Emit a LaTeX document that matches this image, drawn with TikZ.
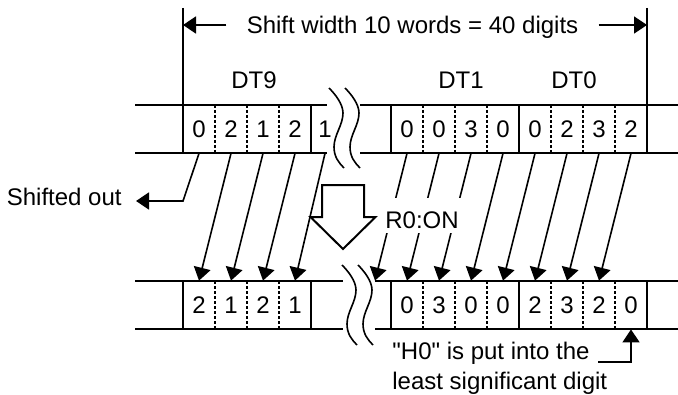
\documentclass[tikz,border=0pt]{standalone}
\usepackage{fontspec}
\setmainfont{Liberation Sans}[Ligatures=TeXOff]
\usetikzlibrary{arrows.meta, positioning, calc}
\tikzset{
  cell/.style={minimum width=16pt, minimum height=24pt, inner sep=0pt, font=\fontsize{12}{14}\selectfont},
  lbl/.style={inner sep=0pt, font=\fontsize{12}{14}\selectfont},
  reg/.style={line width=1pt},
  sepline/.style={line width=1pt, dash pattern=on 1.5pt off 1pt},
  mvarrow/.style={line width=0.8pt, -{Triangle[length=6.5pt, width=8.5pt]}},
  brkwave/.pic={\draw[line width=0.8pt] (0,0) .. controls (6,6) and (14,16) .. (14,25)
      .. controls (14,37) and (5,47) .. (5,59) .. controls (5,69) and (10,75) .. (15,80);}
}

\begin{document}
\begin{tikzpicture}[x=0.5pt, y=-0.5pt]
    \useasboundingbox (0,0) rectangle (678,395);

    % Register outlines
    \foreach \y in {105,153} {
      \draw[reg] (135,\y) -- (327,\y);
      \draw[reg] (360,\y) -- (678,\y);
    }
    \foreach \y in {281,329} {
      \draw[reg] (135,\y) -- (343,\y);
      \draw[reg] (375,\y) -- (678,\y);
    }
    \foreach \y in {105,281} {
      \foreach \x in {183,311,391,519,647} \draw[reg] (\x,\y) -- (\x,\y+48);
      \foreach \x in {215,247,279,423,455,487,551,583,615} \draw[sepline] (\x,\y) -- (\x,\y+48);
    }

    % Breaks
    \pic at (329,88) {brkwave};
    \pic at (345,88) {brkwave};
    \pic at (342,265) {brkwave};
    \pic at (358,265) {brkwave};

    % Word labels
    \node[lbl, anchor=base] (dt9) at (254,89) {DT9};
    \node[lbl, anchor=base] (dt1) at (461,89) {DT1};
    \node[lbl, anchor=base] (dt0) at (574,89) {DT0};

    % Top digits
    \foreach \d [count=\i] in {0,2,1,2} \node[cell] (tl\i) at (167+32*\i,129) {\d};
    \node[cell] (tl5) at (325,129) {1};
    \node[cell] (tr0) at (375,129) {};
    \foreach \d [count=\i] in {0,0,3,0,0,2,3,2} \node[cell] (tr\i) at (375+32*\i,129) {\d};

    % Bottom digits
    \foreach \d [count=\i] in {2,1,2,1} \node[cell] (bl\i) at (167+32*\i,305) {\d};
    \node[cell] (br0) at (375,305) {};
    \foreach \d [count=\i] in {0,3,0,0,2,3,2,0} \node[cell] (br\i) at (375+32*\i,305) {\d};

    % Shift width
    \draw[reg] (183,8) -- (183,105);
    \draw[reg] (647,8) -- (647,105);
    \node[lbl, anchor=base, inner xsep=10pt] (title) at (412.5,33.5) {Shift width 10 words = 40 digits};
    \coordinate (dimL) at (183,25);
    \coordinate (dimR) at (647,25);
    \draw[mvarrow] (dimL -| title.west) -- (dimL);
    \draw[mvarrow] (dimR -| title.east) -- (dimR);

    % Block arrow
    \draw[reg, fill=white] (322,185) -- (364,185) -- (364,217) -- (375.5,217)
      -- (343,249) -- (310.5,217) -- (322,217) -- cycle;

    % Shift arrows
    \foreach \i in {2,...,5} {
      \pgfmathtruncatemacro\j{\i-1}
      \draw[mvarrow] (tl\i.south) -- (bl\j.north);
    }
    \foreach \i in {1,...,8} {
      \pgfmathtruncatemacro\j{\i-1}
      \draw[mvarrow] (tr\i.south) -- (br\j.north);
    }

    % Shifted out
    \coordinate (outbend) at (183,201);
    \node[lbl, anchor=base east, inner xsep=7pt] (outlbl) at (136,205.7) {Shifted out};
    \draw[mvarrow] (tl1.south) -- (outbend) -- (outbend -| outlbl.east);

    % Condition
    \node[lbl, anchor=base, fill=white, text height=15pt, text depth=2.5pt, inner xsep=3pt] (r0on) at (422,228) {R0:ON};

    % H0 note
    \node[lbl, anchor=north west, align=left, font=\fontsize{12}{14.75}\selectfont] (h0txt) at (392,342)
      {"H0" is put into the\\least significant digit};
    \coordinate (h0start) at (598,362);
    \draw[mvarrow] (h0start) -| (br8.south);
\end{tikzpicture}
\end{document}
